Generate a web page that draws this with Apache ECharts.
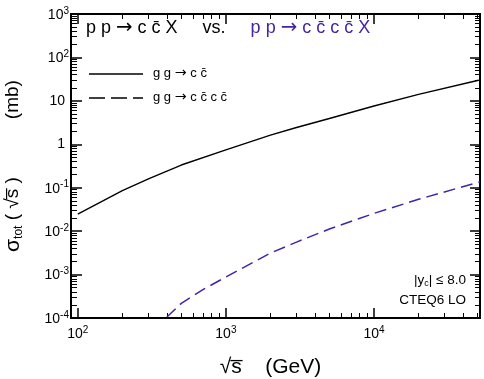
<!DOCTYPE html>
<html>
<head>
<meta charset="utf-8">
<script src="https://cdn.jsdelivr.net/npm/echarts@6/dist/echarts.min.js"></script>
<style>
  html, body { margin: 0; padding: 0; background: #fff; }
  #chart { width: 484px; height: 379px; }
</style>
</head>
<body>
<div id="chart"></div>
<script>
// sqrt(s) in GeV, sigma in mb
const energyCC = [100, 200, 300, 500, 1000, 2000, 3000, 5000, 10000, 20000, 50000, 52000];
const sigmaCC = [0.0248, 0.0853, 0.160, 0.333, 0.746, 1.63, 2.43, 3.93, 7.6, 14.1, 29.4, 30.1];
const energyCCCC = [400, 500, 700, 1000, 2000, 3000, 5000, 10000, 20000, 50000, 52000];
const sigmaCCCC = [1.05e-4, 2.17e-4, 4.5e-4, 8.8e-4, 3.13e-3, 5.6e-3, 1.12e-2, 2.56e-2, 5.4e-2, 0.132, 0.135];

// decade exponents that carry a label
const xDecades = [2, 3, 4];
const yDecades = [-4, -3, -2, -1, 0, 1, 2, 3];
const xRange = [90, 52000];
const yRange = [1e-4, 1e3];

const FONT = '"Liberation Sans", Arial, Helvetica, sans-serif';
const ARROW_FONT = '"DejaVu Sans", sans-serif';
const PURPLE = '#4424a6';
const BAR = '\u0304';

const lx0 = Math.log10(xRange[0]), lx1 = Math.log10(xRange[1]);
const ly0 = Math.log10(yRange[0]), ly1 = Math.log10(yRange[1]);

// minor ticks at 2..9 x 10^n
function minorTicks(lo, hi) {
  const out = [];
  for (let d = Math.floor(lo); d < Math.ceil(hi); d++) {
    for (let k = 2; k <= 9; k++) {
      const v = d + Math.log10(k);
      if (v > lo && v < hi) out.push(v);
    }
  }
  return out;
}
const xMinor = minorTicks(lx0, lx1);
const yMinor = minorTicks(ly0, ly1);

const labelRich = {
  b: { fontSize: 14, fontFamily: FONT, color: '#000', verticalAlign: 'bottom', lineHeight: 16 },
  s: { fontSize: 10, fontFamily: FONT, color: '#000', verticalAlign: 'top', lineHeight: 10 },
  p: { fontSize: 14, fontFamily: FONT, color: '#000', padding: [0, 4, 0, 0] },
};

function tickAxis(dim, position, values, len, width, label) {
  const a = {
    type: 'value',
    gridIndex: 0,
    position,
    min: dim === 'x' ? lx0 : ly0,
    max: dim === 'x' ? lx1 : ly1,
    axisLine: { show: true, onZero: false, lineStyle: { color: '#000', width: 2 } },
    axisTick: { show: true, inside: true, length: len, customValues: values, lineStyle: { color: '#000', width } },
    axisLabel: { show: false },
    splitLine: { show: false },
  };
  if (label) a.axisLabel = label;
  return a;
}

const xLabel = {
  show: true,
  customValues: xDecades,
  margin: 7,
  formatter: (v) => '{b|10}{s|' + Math.round(v) + '}',
  rich: labelRich,
};
const yLabel = {
  show: true,
  customValues: yDecades,
  margin: 2,
  formatter: (v) => {
    const e = Math.round(v);
    if (e === 0) return '{p|1}';
    if (e === 1) return '{p|10}';
    return '{b|10}{s|' + e + '}';
  },
  rich: labelRich,
};

const xBottom = tickAxis('x', 'bottom', xDecades, 10, 1.5, xLabel);
xBottom.name = '\u221As' + '\u0305' + '    (GeV)';
xBottom.nameLocation = 'middle';
xBottom.nameGap = 39;
xBottom.nameTextStyle = { fontSize: 21, fontFamily: FONT, color: '#000', padding: [0, 10, 0, 0] };

const yLeft = tickAxis('y', 'left', yDecades, 11, 1.5, yLabel);
yLeft.name = '{g|\u03C3}{t|tot}{n| ( \u221As\u0305 )           (mb)}';
yLeft.nameLocation = 'middle';
yLeft.nameRotate = 90;
yLeft.nameGap = 46;
yLeft.nameTextStyle = {
  fontSize: 19, fontFamily: FONT, color: '#000',
  rich: {
    g: { fontSize: 21, fontFamily: FONT, color: '#000', verticalAlign: 'top', lineHeight: 22 },
    t: { fontSize: 12, fontFamily: FONT, color: '#000', verticalAlign: 'bottom', lineHeight: 12 },
    n: { fontSize: 19, fontFamily: FONT, color: '#000', verticalAlign: 'top', lineHeight: 22 },
  },
};

// reaction strings: arrow drawn in a wider font
function reaction(tag, lhs, rhs, size, color) {
  return '{' + tag + '|' + lhs + ' }{' + tag + 'a|\u2192}{' + tag + '|' + rhs + '}';
}
function reactionRich(tag, size, color) {
  const r = {};
  r[tag] = { fontSize: size, fontFamily: FONT, fill: color };
  r[tag + 'a'] = { fontSize: size * 1.1, fontFamily: ARROW_FONT, fill: color };
  return r;
}

const chart = echarts.init(document.getElementById('chart'), null, { renderer: 'canvas' });

chart.setOption({
  animation: false,
  backgroundColor: '#fff',
  grid: { left: 71, right: 4, top: 14, bottom: 61, containLabel: false, outerBoundsMode: 'none' },
  xAxis: [
    { type: 'log', logBase: 10, min: xRange[0], max: xRange[1], show: false },
    xBottom,
    tickAxis('x', 'bottom', xMinor, 5, 1),
    tickAxis('x', 'top', xDecades, 10, 1.5),
    tickAxis('x', 'top', xMinor, 5, 1),
  ],
  yAxis: [
    { type: 'log', logBase: 10, min: yRange[0], max: yRange[1], show: false },
    yLeft,
    tickAxis('y', 'left', yMinor, 6, 1),
    tickAxis('y', 'right', yDecades, 10, 1.5),
    tickAxis('y', 'right', yMinor, 5, 1),
  ],
  series: [
    {
      name: 'gg -> ccbar',
      type: 'line',
      xAxisIndex: 0,
      yAxisIndex: 0,
      data: energyCC.map((e, i) => [e, sigmaCC[i]]),
      symbol: 'none',
      smooth: false,
      lineStyle: { color: '#000', width: 1.4 },
      z: 5,
    },
    {
      name: 'gg -> ccbarccbar',
      type: 'line',
      xAxisIndex: 0,
      yAxisIndex: 0,
      data: energyCCCC.map((e, i) => [e, sigmaCCCC[i]]),
      symbol: 'none',
      smooth: false,
      lineStyle: { color: PURPLE, width: 1.5, type: [12, 6] },
      z: 5,
    },
  ],
  graphic: [
    {
      type: 'text', left: 86, top: 18,
      style: {
        text: reaction('k', 'p p', ' c c' + BAR + ' X') + '{k|     vs.     }' +
              reaction('v', 'p p', ' c c' + BAR + ' c c' + BAR + ' X'),
        rich: Object.assign({}, reactionRich('k', 18, '#000'), reactionRich('v', 18, PURPLE)),
      },
    },
    { type: 'line', shape: { x1: 89, y1: 74, x2: 143, y2: 74 }, style: { stroke: '#000', lineWidth: 1.3 } },
    { type: 'line', shape: { x1: 89, y1: 98, x2: 143, y2: 98 }, style: { stroke: '#000', lineWidth: 1.3, lineDash: [16, 6] } },
    {
      type: 'text', left: 153, top: 66,
      style: {
        text: reaction('g', 'g g', ' c c' + BAR),
        rich: reactionRich('g', 13, '#000'),
      },
    },
    {
      type: 'text', left: 153, top: 90,
      style: {
        text: reaction('g', 'g g', ' c c' + BAR + ' c c' + BAR),
        rich: reactionRich('g', 13, '#000'),
      },
    },
    {
      type: 'text', right: 18, top: 273,
      style: {
        text: '|y{c|c}| \u2264 8.0',
        fontSize: 13.5, fontFamily: FONT, fill: '#000',
        rich: {
          c: { fontSize: 9, fontFamily: FONT, fill: '#000', padding: [8, 0, 0, 0] },
        },
      },
    },
    {
      type: 'text', right: 18, top: 293,
      style: { text: 'CTEQ6 LO', fontSize: 13.5, fontFamily: FONT, fill: '#000' },
    },
  ],
});
</script>
</body>
</html>
